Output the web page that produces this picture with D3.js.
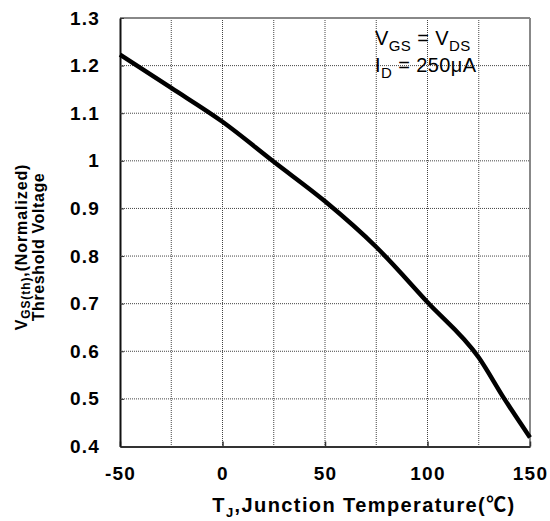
<!DOCTYPE html>
<html>
<head>
<meta charset="utf-8">
<script src="https://cdn.jsdelivr.net/npm/d3@7"></script>
<style>
  body { margin: 0; background: #fff; }
  svg { font-family: 'Liberation Sans', Arial, sans-serif; }
</style>
</head>
<body>
<div id="graph"></div>
<script>
// curve
var tempValues = [-50, -25, 0, 25, 50, 75, 100, 125, 137.5, 150];
var vthValues = [1.223, 1.153, 1.082, 0.998, 0.915, 0.819, 0.703, 0.587, 0.50, 0.419];
var xTicks = [-50, 0, 50, 100, 150];
var yTicks = [0.4, 0.5, 0.6, 0.7, 0.8, 0.9, 1, 1.1, 1.2, 1.3];
var xGrid = [-25, 0, 25, 50, 75, 100, 125];

var canvasWidth = 550;
var canvasHeight = 521;
var margin = { top: 18, right: 20, bottom: 75, left: 120 };
var width = canvasWidth - margin.left - margin.right;
var height = canvasHeight - margin.top - margin.bottom + 0.5;

var svg = d3.select('#graph')
  .append('svg')
  .attr('width', canvasWidth)
  .attr('height', canvasHeight);

var graphArea = svg.append('g')
  .attr('transform', 'translate(' + margin.left + ',' + margin.top + ')');

var xScale = d3.scaleLinear().domain([-50, 150]).range([0, width]);
var yScale = d3.scaleLinear().domain([0.4, 1.3]).range([height, 0]);

// dotted grid
graphArea.selectAll('.vgrid')
  .data(xGrid)
  .enter()
  .append('line')
  .attr('x1', function(d) { return xScale(d); })
  .attr('x2', function(d) { return xScale(d); })
  .attr('y1', 0)
  .attr('y2', height)
  .attr('stroke', '#444')
  .attr('stroke-width', 1)
  .attr('stroke-dasharray', '1,1');

graphArea.selectAll('.hgrid')
  .data(yTicks.slice(1, -1))
  .enter()
  .append('line')
  .attr('x1', 0)
  .attr('x2', width)
  .attr('y1', function(d) { return yScale(d); })
  .attr('y2', function(d) { return yScale(d); })
  .attr('stroke', '#444')
  .attr('stroke-width', 1)
  .attr('stroke-dasharray', '1,1');

// top and right frame
graphArea.append('line')
  .attr('x1', 0).attr('x2', width).attr('y1', 0).attr('y2', 0)
  .attr('stroke', '#888').attr('stroke-width', 2);
graphArea.append('line')
  .attr('x1', width).attr('x2', width).attr('y1', 0).attr('y2', height)
  .attr('stroke', '#888').attr('stroke-width', 2);

// axes
var xAxis = graphArea.append('g')
  .attr('transform', 'translate(0,' + height + ')')
  .call(d3.axisBottom(xScale).tickValues(xTicks).tickSize(-5).tickSizeOuter(0).tickPadding(20)
    .tickFormat(function(d) { return String(d); }));
xAxis.select('.domain').attr('stroke', '#333').attr('stroke-width', 2);
xAxis.selectAll('.tick line').attr('stroke', '#333').attr('stroke-width', 1.5);
xAxis.selectAll('text')
  .attr('fill', '#000')
  .attr('font-size', '19px')
  .attr('font-weight', 'bold')
  .attr('letter-spacing', '1.2px')
  .attr('font-family', "'Liberation Sans', Arial, sans-serif");

var yAxis = graphArea.append('g')
  .call(d3.axisLeft(yScale).tickValues(yTicks).tickSize(-4).tickSizeOuter(0).tickPadding(20)
    .tickFormat(function(d) { return d === 1 ? '1' : d3.format('.1f')(d); }));
yAxis.select('.domain').attr('stroke', '#111').attr('stroke-width', 2);
yAxis.selectAll('.tick line').attr('stroke', '#333');
yAxis.selectAll('text')
  .attr('fill', '#000')
  .attr('font-size', '19px')
  .attr('font-weight', 'bold')
  .attr('letter-spacing', '1.2px')
  .attr('font-family', "'Liberation Sans', Arial, sans-serif");

// the curve
var line = d3.line()
  .x(function(d, i) { return xScale(tempValues[i]); })
  .y(function(d) { return yScale(d); })
  .curve(d3.curveMonotoneX);

graphArea.append('path')
  .datum(vthValues)
  .attr('d', line)
  .attr('fill', 'none')
  .attr('stroke', '#000')
  .attr('stroke-width', 4.5);

// conditions note
var note = svg.append('text')
  .attr('x', 375)
  .attr('y', 45)
  .attr('font-size', '20px')
  .attr('letter-spacing', '0.4px')
  .attr('fill', '#000');
note.append('tspan').text('V');
note.append('tspan').attr('font-size', '15px').attr('dy', 6).text('GS');
note.append('tspan').attr('dy', -6).text(' = V');
note.append('tspan').attr('font-size', '15px').attr('dy', 6).text('DS');

var note2 = svg.append('text')
  .attr('x', 375)
  .attr('y', 72)
  .attr('font-size', '20px')
  .attr('letter-spacing', '0.4px')
  .attr('fill', '#000');
note2.append('tspan').text('I');
note2.append('tspan').attr('font-size', '15px').attr('dy', 6).text('D');
note2.append('tspan').attr('dy', -6).text(' = 250μA');

// x axis title
var xTitle = svg.append('text')
  .attr('x', 364)
  .attr('y', 512)
  .attr('text-anchor', 'middle')
  .attr('font-size', '20px')
  .attr('font-weight', 'bold')
  .attr('letter-spacing', '1.4px')
  .attr('fill', '#000');
xTitle.append('tspan').text('T');
xTitle.append('tspan').attr('font-size', '13px').attr('dy', 5).text('J');
xTitle.append('tspan').attr('dy', -5).text(',Junction Temperature(');
xTitle.append('tspan').attr('font-family', "'Noto Sans CJK SC', sans-serif").text('℃');
xTitle.append('tspan').text(')');

// y axis title, two lines
var yTitle = svg.append('text')
  .attr('transform', 'translate(27,247) rotate(-90)')
  .attr('text-anchor', 'middle')
  .attr('font-size', '16px')
  .attr('font-weight', 'bold')
  .attr('letter-spacing', '0.9px')
  .attr('fill', '#000');
yTitle.append('tspan').text('V');
yTitle.append('tspan').attr('font-size', '12px').attr('dy', 3).text('GS(th)');
yTitle.append('tspan').attr('dy', -3).text(',(Normalized)');

svg.append('text')
  .attr('transform', 'translate(44,247) rotate(-90)')
  .attr('text-anchor', 'middle')
  .attr('font-size', '16px')
  .attr('font-weight', 'bold')
  .attr('letter-spacing', '0.6px')
  .attr('fill', '#000')
  .text('Threshold Voltage');
</script>
</body>
</html>
